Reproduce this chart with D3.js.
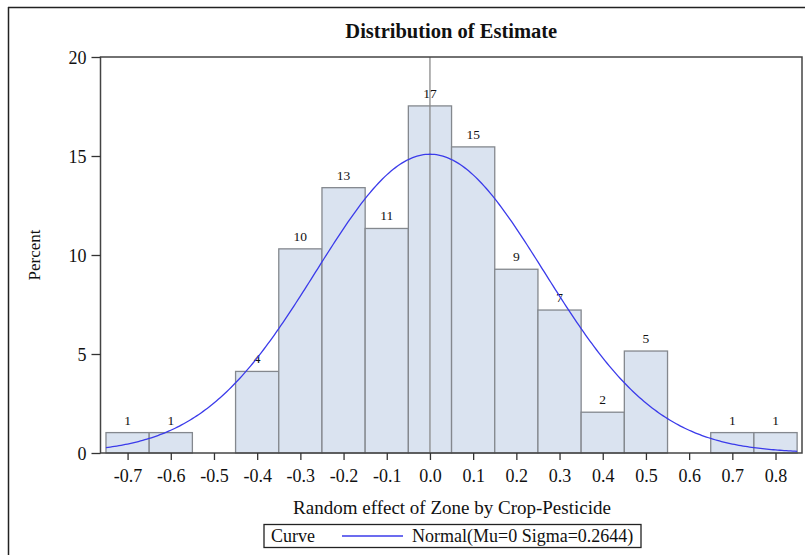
<!DOCTYPE html>
<html>
<head>
<meta charset="utf-8">
<script src="https://cdn.jsdelivr.net/npm/d3@7"></script>
<style>
  body { margin: 0; background: #fff; }
  text { font-family: "Liberation Serif", "Times New Roman", serif; fill: #111; }
</style>
</head>
<body>
<div id="chart"></div>
<script>
// bin midpoints, counts shown on bars, percent heights
var binMids = [-0.7, -0.6, -0.5, -0.4, -0.3, -0.2, -0.1, 0.0, 0.1, 0.2, 0.3, 0.4, 0.5, 0.6, 0.7, 0.8];
var counts  = [1, 1, 0, 4, 10, 13, 11, 17, 15, 9, 7, 2, 5, 0, 1, 1];
var percent = [1.03, 1.03, 0, 4.12, 10.31, 13.40, 11.34, 17.53, 15.46, 9.28, 7.22, 2.06, 5.15, 0, 1.03, 1.03];
var binWidth = 0.1;
var xTicks = [-0.7, -0.6, -0.5, -0.4, -0.3, -0.2, -0.1, 0.0, 0.1, 0.2, 0.3, 0.4, 0.5, 0.6, 0.7, 0.8];
var yTicks = [0, 5, 10, 15, 20];
// fitted normal curve parameters (from legend), drawn over the binned range
var mu = 0, sigma = 0.2644;
var curveRange = [-0.75, 0.85];

var W = 805, H = 555;
var pLeft = 100.5, pRight = 802, pTop = 57, pBottom = 453;

var svg = d3.select("#chart").append("svg")
    .attr("width", W).attr("height", H);

// outer border of the graph area
svg.append("line").attr("x1", 8).attr("x2", W).attr("y1", 7.5).attr("y2", 7.5)
    .attr("stroke", "#222").attr("stroke-width", 1.5);
svg.append("line").attr("x1", 8.5).attr("x2", 8.5).attr("y1", 7).attr("y2", H)
    .attr("stroke", "#222").attr("stroke-width", 1.5);

var x = d3.scaleLinear().domain([-0.7627, 0.8613]).range([pLeft, pRight]);
var y = d3.scaleLinear().domain([0, 20]).range([pBottom, pTop]);

var data = binMids.map(function(m, i) {
    return { mid: m, count: counts[i], pct: percent[i] };
});
var nonEmpty = data.filter(function(d) { return d.count > 0; });

// bars
svg.append("g").selectAll("rect")
    .data(nonEmpty)
    .enter().append("rect")
    .attr("x", function(d) { return x(d.mid - binWidth / 2); })
    .attr("y", function(d) { return y(d.pct); })
    .attr("width", function(d) { return x(d.mid + binWidth / 2) - x(d.mid - binWidth / 2); })
    .attr("height", function(d) { return y(0) - y(d.pct); })
    .attr("fill", "#dae3f0")
    .attr("stroke", "#84888e")
    .attr("stroke-width", 1.3);

// reference line at 0
svg.append("line")
    .attr("x1", x(0)).attr("x2", x(0))
    .attr("y1", pTop).attr("y2", pBottom)
    .attr("stroke", "#8a8a8a").attr("stroke-width", 1.3);

// bar labels
svg.append("g").selectAll("text")
    .data(nonEmpty)
    .enter().append("text")
    .attr("x", function(d) { return x(d.mid); })
    .attr("y", function(d) { return y(d.pct) - 8; })
    .attr("text-anchor", "middle")
    .style("font-size", "13.5px")
    .text(function(d) { return d.count; });

// normal curve, scaled to percent per bin
var pts = d3.range(curveRange[0], curveRange[1] + 0.001, 0.005).map(function(v) {
    var z = (v - mu) / sigma;
    return [v, 100 * binWidth * Math.exp(-0.5 * z * z) / (sigma * Math.sqrt(2 * Math.PI))];
});
svg.append("path")
    .datum(pts)
    .attr("fill", "none")
    .attr("stroke", "#3b3bea")
    .attr("stroke-width", 1.3)
    .attr("d", d3.line().x(function(d) { return x(d[0]); }).y(function(d) { return y(d[1]); }));

// frame
svg.append("rect")
    .attr("x", pLeft).attr("y", pTop)
    .attr("width", pRight - pLeft).attr("height", pBottom - pTop)
    .attr("fill", "none").attr("stroke", "#444").attr("stroke-width", 1.5);

// axes
var fmt = d3.format(".1f");
var xAxis = d3.axisBottom(x).tickValues(xTicks).tickSize(7).tickSizeOuter(0);
var gx = svg.append("g").attr("transform", "translate(0," + pBottom + ")").call(xAxis);
gx.select(".domain").remove();
gx.selectAll("line").attr("stroke", "#333").attr("stroke-width", 1.3);
gx.selectAll("text").attr("dy", 0).attr("y", 29)
    .style("font-size", "18px").style("font-family", "Liberation Serif").attr("fill", "#111")
    .text(function(d) { return fmt(d).replace("\u2212", "-"); });

var yAxis = d3.axisLeft(y).tickValues(yTicks).tickSize(9).tickSizeOuter(0);
var gy = svg.append("g").attr("transform", "translate(" + pLeft + ",0)").call(yAxis);
gy.select(".domain").remove();
gy.selectAll("line").attr("stroke", "#333").attr("stroke-width", 1.3);
gy.selectAll("text").attr("x", -14).attr("dy", "0.34em")
    .style("font-size", "18px").style("font-family", "Liberation Serif").attr("fill", "#111");

// title and axis labels
svg.append("text")
    .attr("x", (pLeft + pRight) / 2).attr("y", 38)
    .attr("text-anchor", "middle")
    .style("font-size", "20.5px").style("font-weight", "bold")
    .text("Distribution of Estimate");

svg.append("text")
    .attr("transform", "translate(40," + ((pTop + pBottom) / 2) + ") rotate(-90)")
    .attr("text-anchor", "middle")
    .style("font-size", "17px")
    .text("Percent");

svg.append("text")
    .attr("x", 452).attr("y", 514)
    .attr("text-anchor", "middle")
    .style("font-size", "19px")
    .text("Random effect of Zone by Crop-Pesticide");

// legend
var lg = svg.append("g");
lg.append("rect").attr("x", 264).attr("y", 524.5).attr("width", 377).attr("height", 23)
    .attr("fill", "#fff").attr("stroke", "#222").attr("stroke-width", 1.3);
lg.append("text").attr("x", 271).attr("y", 542).style("font-size", "18px").text("Curve");
lg.append("line").attr("x1", 342).attr("x2", 403).attr("y1", 536).attr("y2", 536)
    .attr("stroke", "#3b3bea").attr("stroke-width", 1.5);
lg.append("text").attr("x", 412).attr("y", 542).style("font-size", "18px")
    .text("Normal(Mu=0 Sigma=0.2644)");
</script>
</body>
</html>
